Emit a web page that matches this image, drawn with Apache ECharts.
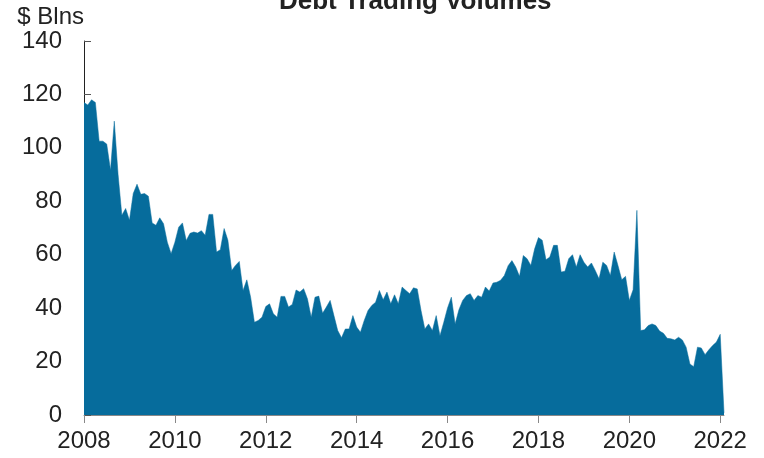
<!DOCTYPE html>
<html>
<head>
<meta charset="utf-8">
<script src="https://cdn.jsdelivr.net/npm/echarts@6/dist/echarts.min.js"></script>
<style>
  html, body { margin: 0; padding: 0; background: #fff; }
  #chart { width: 764px; height: 458px; }
</style>
</head>
<body>
<div id="chart"></div>
<script>
// monthly volumes, $ Blns, Jan 2008 .. Feb 2022
const startYear = 2008;
const volumes = [
  117, 116, 118, 117, 102.5, 102.5, 101.4, 91.6, 110, 90, 74.8, 77.3,
  72.9, 82.9, 86.4, 82.6, 82.9, 81.9, 71.9, 71, 73.8, 71.6, 64.7, 60.4,
  64.7, 70.3, 71.9, 65.3, 68, 68.5, 68.1, 69, 67.3, 75.1, 75.1, 61,
  61.9, 69.8, 65.4, 54.1, 56, 57.5, 46.6, 50.6, 44.1, 34.7, 35.4, 36.6,
  40.6, 41.6, 37.9, 36.6, 44.4, 44.4, 40.4, 41.4, 46.8, 46, 47.3, 43.5,
  36.6, 44.1, 44.5, 38.1, 40.4, 42.9, 37.2, 31.6, 28.9, 32.2, 32.2, 37.2,
  32.9, 31, 35.4, 39.1, 41, 42.2, 46.6, 43.1, 46, 41.6, 45, 41.6,
  47.9, 46.6, 45.4, 47.6, 47.2, 39.1, 32.2, 34.1, 31.6, 37.2, 29.7, 34.7,
  40.1, 44.1, 34.1, 39.4, 42.9, 44.7, 45.4, 42.9, 44.7, 44.1, 47.9, 46.4,
  49.4, 49.7, 50.4, 52.2, 55.9, 57.8, 55.4, 51.9, 59.7, 58.5, 56, 62.2,
  66.4, 65.4, 58.1, 59.1, 63.5, 63.5, 53.5, 53.8, 58.5, 60, 55.4, 60,
  57.2, 55.4, 56.9, 54.1, 51, 57.2, 56, 52.2, 61, 56, 50.6, 51.9,
  42.9, 46.9, 76.6, 31.6, 31.9, 33.5, 34.1, 33.5, 31.4, 30.6, 28.7, 28.5,
  28.1, 29.1, 28.1, 25.4, 19.1, 18.1, 25.4, 25.1, 22.6, 24.4, 26, 27.3,
  30.2, 0.8
];
const yearTicks = [2008, 2010, 2012, 2014, 2016, 2018, 2020, 2022];

const points = volumes.map((v, i) => [startYear + i / 12, v]);

const chart = echarts.init(document.getElementById('chart'));

const option = {
  animation: false,
  title: {
    text: 'Debt Trading Volumes',
    left: 274,
    top: -16,
    textStyle: {
      fontFamily: 'Liberation Sans',
      fontSize: 26,
      fontWeight: 'bold',
      color: '#222',
    },
  },
  grid: { left: 84, right: 40, top: 41, bottom: 43 },
  xAxis: {
    type: 'value',
    min: 2008,
    max: startYear + (volumes.length - 1) / 12,
    axisLine: { show: true, lineStyle: { color: '#888', width: 1 } },
    axisTick: { show: true, length: 8, customValues: yearTicks, lineStyle: { color: '#888' } },
    axisLabel: {
      customValues: yearTicks,
      margin: 14,
      fontFamily: 'Liberation Sans',
      fontSize: 24,
      color: '#222',
      formatter: (v) => String(v),
    },
    splitLine: { show: false },
  },
  yAxis: {
    type: 'value',
    min: 0,
    max: 140,
    interval: 20,
    name: '$ Blns',
    nameLocation: 'end',
    nameGap: 12,
    nameTextStyle: {
      fontFamily: 'Liberation Sans',
      fontSize: 24,
      color: '#222',
      align: 'right',
    },
    axisLine: { show: true, lineStyle: { color: '#222', width: 1 } },
    axisTick: { show: true, inside: true, length: 7, lineStyle: { color: '#555' } },
    axisLabel: {
      margin: 22,
      fontFamily: 'Liberation Sans',
      fontSize: 24,
      color: '#222',
    },
    splitLine: { show: false },
  },
  series: [
    {
      type: 'line',
      data: points,
      showSymbol: false,
      lineStyle: { width: 0.5, color: '#066c9c' },
      areaStyle: { color: '#066c9c', opacity: 1 },
      z: 1,
    },
  ],
};

chart.setOption(option);
</script>
</body>
</html>
